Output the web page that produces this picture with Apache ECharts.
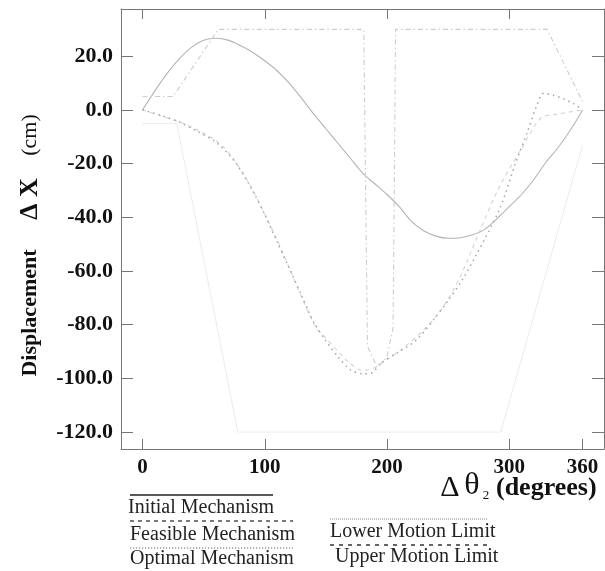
<!DOCTYPE html>
<html>
<head>
<meta charset="utf-8">
<script src="https://cdn.jsdelivr.net/npm/echarts@6/dist/echarts.min.js"></script>
<style>
html,body{margin:0;padding:0;background:#fff;}
#chart{width:605px;height:571px;}
</style>
</head>
<body>
<div id="chart"></div>
<script>
// ---- data ----
const xTickValues = [0, 100, 200, 300, 360];
const xTopTickValues = [0, 100, 200, 300];
const yTickValues = [20, 0, -20, -40, -60, -80, -100, -120];

const initialMechanism = [
  [0,0],[10,7],[20,13.5],[30,19],[40,23.3],[50,26],[60,26.7],[70,26],[80,24],[90,21.5],
  [100,18.3],[110,14.6],[120,10],[130,4.4],[140,-1.5],[150,-7],[160,-12.5],[170,-18],
  [180,-23.5],[190,-27.5],[200,-31.5],[210,-36],[220,-41.5],[230,-45],[240,-47],[250,-47.8],
  [260,-47.6],[270,-46.5],[280,-44.5],[290,-40.5],[300,-36],[310,-31.5],[320,-26],
  [330,-19.5],[340,-14],[350,-7.5],[360,0]
];
const feasibleMechanism = [
  [0,0],[15,-2.2],[30,-4.4],[45,-7.5],[63,-12.4],[74,-18],[87,-27.3],[101,-39.7],[115,-53.4],
  [130,-69.6],[142,-81],[150,-85],[160,-90],[170,-94.5],[180,-97],[190,-96],[200,-93],
  [215,-88],[230,-82],[245,-74],[260,-62],[275,-46],[292,-28.6],[311,-13.7],[326,-3],
  [340,-1.5],[360,0]
];
const optimalMechanism = [
  [0,0],[15,-2],[30,-4.5],[45,-8],[60,-12],[75,-19],[90,-30],[100,-39],[110,-49],[120,-59],
  [130,-69],[140,-79],[150,-86],[160,-92],[170,-96.8],[180,-98.3],[188,-97.8],[195,-94.3],
  [210,-90],[224,-85.7],[240,-77],[250,-71],[262,-63],[273,-54],[292,-37],[305,-20],
  [315,-8],[322,1],[328,6.2],[336,5.5],[345,4],[352,2.5],[360,0]
];
const lowerMotionLimit = [
  [0,-5],[28,-5],[78,-120],[293,-120],[360,-13]
];
const upperMotionLimit = [
  [0,5],[25,5],[62,30],[181,30],[184,-88],[192,-96],[200,-92],[205,-81],[207,30],[331,30],[360,3]
];
const legendNames = ['Initial Mechanism','Feasible Mechanism','Optimal Mechanism','Lower Motion Limit','Upper Motion Limit'];

// ---- chart ----
const serif = "'Liberation Serif','Times New Roman',serif";
const axisColor = '#777';
const chart = echarts.init(document.getElementById('chart'), null, {renderer:'canvas'});

const lineStyles = [
  {color:'#b4b4b4', width:1.1, type:'solid'},
  {color:'#d2d2d2', width:1.1, type:[4,4]},
  {color:'#a6a6a6', width:1.5, type:[1.5,4]},
  {color:'#ebebeb', width:1, type:'solid'},
  {color:'#cccccc', width:1.1, type:[5,3,1.5,3]}
];
const seriesData = [initialMechanism, feasibleMechanism, optimalMechanism, lowerMotionLimit, upperMotionLimit];
const smoothFlags = [0.3, 0.3, 0.3, false, false];

const legendGraphics = [];
const legendLayout = [
  {x1:130,x2:273,y:495,tx:128,ty:508,style:{stroke:'#222',lineWidth:1.5}},
  {x1:130,x2:293,y:521,tx:130,ty:535,style:{stroke:'#333',lineWidth:1.3,lineDash:[4,4]}},
  {x1:130,x2:293,y:548,tx:130,ty:559,style:{stroke:'#666',lineWidth:1.2,lineDash:[1.2,1.8]}},
  {x1:330,x2:488,y:519,tx:330,ty:532,style:{stroke:'#888',lineWidth:1,lineDash:[1,1]}},
  {x1:330,x2:488,y:545,tx:335,ty:557,style:{stroke:'#333',lineWidth:1.3,lineDash:[4,5]}}
];
legendLayout.forEach((l,i)=>{
  legendGraphics.push({type:'line',shape:{x1:l.x1,y1:l.y,x2:l.x2,y2:l.y},style:l.style,silent:true});
  legendGraphics.push({type:'text',x:l.tx,y:l.ty,style:{text:legendNames[i],font:'20px '+serif,fill:'#222',align:'left',verticalAlign:'middle'},silent:true});
});

const titleGraphics = [
  {type:'text',x:30,y:313,rotation:Math.PI/2,style:{text:'Displacement',font:'bold 22px '+serif,fill:'#111',align:'center',verticalAlign:'middle'}},
  {type:'text',x:30,y:199,rotation:Math.PI/2,style:{text:'\u0394 X',font:'bold 26px '+serif,fill:'#111',align:'center',verticalAlign:'middle'}},
  {type:'text',x:30,y:135,rotation:Math.PI/2,style:{text:'(cm)',font:'22px '+serif,fill:'#111',align:'center',verticalAlign:'middle'}},
  {type:'text',x:450,y:488,style:{text:'\u0394',font:'30px '+serif,fill:'#111',align:'center',verticalAlign:'middle'}},
  {type:'text',x:472,y:486,style:{text:'\u03b8',font:'32px '+serif,fill:'#111',align:'center',verticalAlign:'middle'}},
  {type:'text',x:486,y:496,style:{text:'2',font:'13px '+serif,fill:'#111',align:'center',verticalAlign:'middle'}},
  {type:'text',x:496,y:488,style:{text:'(degrees)',font:'bold 26px '+serif,fill:'#111',align:'left',verticalAlign:'middle'}}
];

const option = {
  backgroundColor:'#fff',
  animation:false,
  grid:{left:121,right:1,top:9,bottom:122,containLabel:false,outerBoundsMode:'none'},
  xAxis:[{
    type:'value',min:-17.6,max:377.5,position:'bottom',
    axisLine:{show:true,onZero:false,lineStyle:{color:axisColor,width:1}},
    axisTick:{show:true,inside:true,length:10,customValues:xTickValues,lineStyle:{color:axisColor}},
    axisLabel:{show:true,customValues:xTickValues,margin:8,color:'#111',fontFamily:serif,fontWeight:'bold',fontSize:21},
    splitLine:{show:false}
  },{
    type:'value',min:-17.6,max:377.5,position:'top',
    axisLine:{show:true,onZero:false,lineStyle:{color:axisColor,width:1}},
    axisTick:{show:true,inside:true,length:10,customValues:xTopTickValues,lineStyle:{color:axisColor}},
    axisLabel:{show:false},
    splitLine:{show:false}
  }],
  yAxis:[{
    type:'value',min:-126.3,max:37.6,position:'left',
    axisLine:{show:true,onZero:false,lineStyle:{color:axisColor,width:1}},
    axisTick:{show:true,inside:true,length:12,customValues:yTickValues,lineStyle:{color:axisColor}},
    axisLabel:{show:true,customValues:yTickValues,margin:8,color:'#111',fontFamily:serif,fontWeight:'bold',fontSize:22,
      formatter:v=>Number(v).toFixed(1)},
    splitLine:{show:false}
  },{
    type:'value',min:-126.3,max:37.6,position:'right',
    axisLine:{show:true,onZero:false,lineStyle:{color:axisColor,width:1}},
    axisTick:{show:true,inside:true,length:12,customValues:yTickValues,lineStyle:{color:axisColor}},
    axisLabel:{show:false},
    splitLine:{show:false}
  }],
  series: seriesData.map((d,i)=>({
    name:legendNames[i],type:'line',data:d,xAxisIndex:0,yAxisIndex:0,
    showSymbol:false,smooth:smoothFlags[i],lineStyle:lineStyles[i],z:3,silent:true
  })),
  graphic: legendGraphics.concat(titleGraphics)
};
chart.setOption(option);
</script>
</body>
</html>
